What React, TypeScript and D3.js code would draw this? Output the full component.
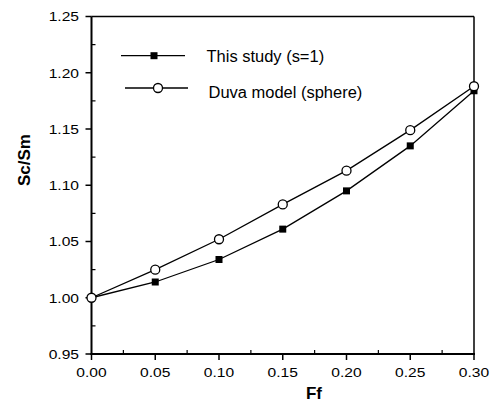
import React from "react";
import * as d3 from "d3";

const ffValues = [0.0, 0.05, 0.1, 0.15, 0.2, 0.25, 0.3];
const thisStudy = [1.0, 1.014, 1.034, 1.061, 1.095, 1.135, 1.184];
const duvaModel = [1.0, 1.025, 1.052, 1.083, 1.113, 1.149, 1.188];
const xTicks = [0.0, 0.05, 0.1, 0.15, 0.2, 0.25, 0.3];
const yTicks = [0.95, 1.0, 1.05, 1.1, 1.15, 1.2, 1.25];
const seriesNames = ["This study (s=1)", "Duva model (sphere)"];

const W = 490;
const H = 405;
const left = 91.5;
const right = 474;
const top = 16.5;
const bottom = 354;
const font = "'Liberation Sans', Arial, sans-serif";

function SText(props: {
  x: number;
  y: number;
  sx: number;
  size: number;
  anchor?: string;
  weight?: string;
  children: React.ReactNode;
}) {
  const { x, y, sx, size, anchor, weight, children } = props;
  return (
    <text
      transform={`translate(${x},${y}) scale(${sx},1)`}
      textAnchor={anchor || "start"}
      fontFamily={font}
      fontSize={size}
      fontWeight={weight || "normal"}
    >
      {children}
    </text>
  );
}

export default function App() {
  const x = d3.scaleLinear().domain([0, 0.3]).range([left, right]);
  const y = d3.scaleLinear().domain([0.95, 1.25]).range([bottom, top]);
  const line = d3
    .line<[number, number]>()
    .x((d) => x(d[0]))
    .y((d) => y(d[1]));
  const s1 = ffValues.map((f, i) => [f, thisStudy[i]] as [number, number]);
  const s2 = ffValues.map((f, i) => [f, duvaModel[i]] as [number, number]);
  const xMinor = xTicks.slice(0, -1).map((t) => t + 0.025);
  const yMinor = yTicks.slice(0, -1).map((t) => t + 0.025);

  return (
    <svg
      width={W}
      height={H}
      style={{ position: "absolute", left: 0, top: 0, background: "#fff" }}
    >
      {/* frame */}
      <line x1={left} x2={right} y1={top} y2={top} stroke="#000" strokeWidth={1.5} />
      <line x1={right} x2={right} y1={top} y2={bottom} stroke="#000" strokeWidth={1.5} />
      <line x1={left} x2={left} y1={top} y2={bottom + 1} stroke="#000" strokeWidth={2} />
      <line x1={left - 1} x2={right + 1} y1={bottom} y2={bottom} stroke="#000" strokeWidth={2} />
      {/* y ticks */}
      {yTicks.map((t) => (
        <g key={"yt" + t}>
          <line x1={left - 6} x2={left} y1={y(t)} y2={y(t)} stroke="#000" strokeWidth={1.5} />
          <SText x={79} y={y(t) + 4.8} sx={1.2} size={13} anchor="end">
            {t.toFixed(2)}
          </SText>
        </g>
      ))}
      {yMinor.map((t) => (
        <line key={"ym" + t} x1={left} x2={left + 4} y1={y(t)} y2={y(t)} stroke="#000" strokeWidth={1.2} />
      ))}
      {/* x ticks */}
      {xTicks.map((t) => (
        <g key={"xt" + t}>
          <line x1={x(t)} x2={x(t)} y1={bottom} y2={bottom + 6} stroke="#000" strokeWidth={1.5} />
          <SText x={x(t)} y={377} sx={1.2} size={13} anchor="middle">
            {t.toFixed(2)}
          </SText>
        </g>
      ))}
      {xMinor.map((t) => (
        <line key={"xm" + t} x1={x(t)} x2={x(t)} y1={bottom} y2={bottom - 4} stroke="#000" strokeWidth={1.2} />
      ))}
      {/* axis titles */}
      <text
        transform={`translate(30,160) rotate(-90)`}
        textAnchor="middle"
        fontFamily={font}
        fontWeight="bold"
        fontSize={17}
      >
        Sc/Sm
      </text>
      <text
        x={314}
        y={399}
        textAnchor="middle"
        fontFamily={font}
        fontWeight="bold"
        fontSize={17}
      >
        Ff
      </text>
      {/* series */}
      <path d={line(s1) || ""} fill="none" stroke="#000" strokeWidth={1.3} />
      <path d={line(s2) || ""} fill="none" stroke="#000" strokeWidth={1.3} />
      {s1.map((d, i) => (
        <rect key={"s" + i} x={x(d[0]) - 3.5} y={y(d[1]) - 3.5} width={7} height={7} fill="#000" />
      ))}
      {s2.map((d, i) => (
        <circle key={"c" + i} cx={x(d[0])} cy={y(d[1])} r={4.5} fill="#fff" stroke="#000" strokeWidth={1.3} />
      ))}
      {/* legend */}
      <line x1={121} x2={185} y1={55.7} y2={55.7} stroke="#000" strokeWidth={1.3} />
      <rect x={154 - 3.5} y={55.7 - 3.5} width={7} height={7} fill="#000" />
      <SText x={206.5} y={62} sx={1.03} size={16}>
        {seriesNames[0]}
      </SText>
      <line x1={125} x2={188} y1={88} y2={88} stroke="#000" strokeWidth={1.3} />
      <circle cx={158} cy={88} r={4.5} fill="#fff" stroke="#000" strokeWidth={1.3} />
      <SText x={208.5} y={98} sx={1.03} size={16}>
        {seriesNames[1]}
      </SText>
    </svg>
  );
}
